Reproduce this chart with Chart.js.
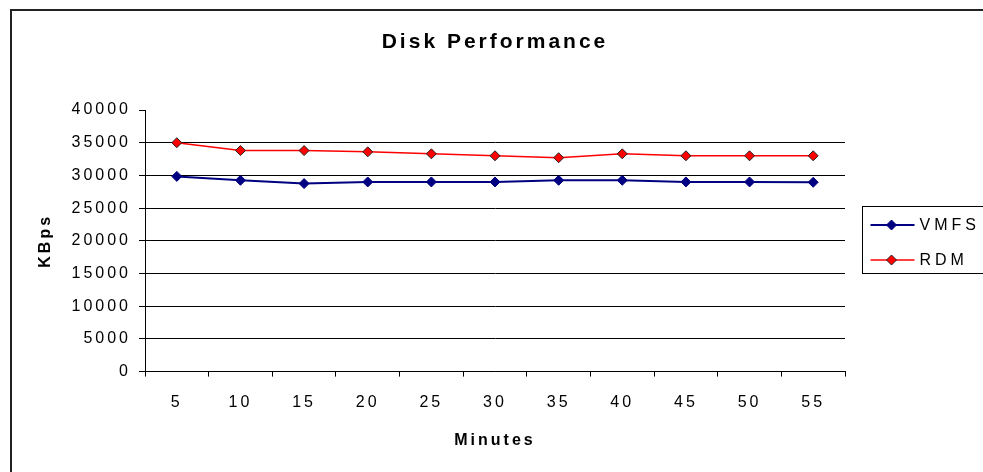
<!DOCTYPE html>
<html>
<head>
<meta charset="utf-8">
<script src="https://cdn.jsdelivr.net/npm/chart.js@4/dist/chart.umd.min.js"></script>
<style>
  body { margin: 0; background: #fff; }
  #wrap { position: relative; width: 983px; height: 472px; overflow: hidden; }
  #frame { position: absolute; left: 10px; top: 9px; width: 1100px; height: 600px;
           border-left: 2px solid #222; border-top: 2px solid #222; }
  canvas { position: absolute; left: 0; top: 0; }
</style>
</head>
<body>
<div id="wrap">
  <div id="frame"></div>
  <canvas id="disk" width="983" height="472"></canvas>
</div>
<script>
const minutes = ['5', '10', '15', '20', '25', '30', '35', '40', '45', '50', '55'];
const vmfs = [29850, 29250, 28750, 29000, 29000, 29000, 29250, 29250, 29000, 29000, 28950];
const rdm = [35000, 33800, 33800, 33600, 33300, 33000, 32700, 33300, 33000, 33000, 33000];
const yMin = 0, yMax = 40000, yStep = 5000;

const FONT = "'Liberation Sans', Arial, sans-serif";

// old excel bitmap text is wide, so space the letters out
const spacing = {
    id: 'spacing',
    beforeUpdate(chart) { chart.ctx.letterSpacing = '3px'; },
    beforeDraw(chart) { chart.ctx.letterSpacing = '3px'; }
};

// excel style legend: framed box, line + marker
const boxLegend = {
    id: 'boxLegend',
    afterDraw(chart) {
        const ctx = chart.ctx;
        const x0 = chart.chartArea.right + 17.5;
        ctx.save();
        ctx.strokeStyle = '#000';
        ctx.lineWidth = 1;
        ctx.strokeRect(x0, 206.5, 140, 67);
        chart.data.datasets.forEach((ds, i) => {
            const y = 225 + i * 35;
            ctx.strokeStyle = ds.borderColor;
            ctx.lineWidth = ds.borderWidth;
            ctx.beginPath();
            ctx.moveTo(x0 + 8, y);
            ctx.lineTo(x0 + 52, y);
            ctx.stroke();
            ctx.fillStyle = ds.pointBackgroundColor;
            ctx.strokeStyle = ds.pointBorderColor;
            ctx.lineWidth = 1;
            Chart.helpers.drawPoint(ctx, {pointStyle: 'rectRot', radius: 5, borderWidth: 1}, x0 + 29, y);
            ctx.fillStyle = '#000';
            ctx.font = '16px ' + FONT;
            ctx.letterSpacing = '4px';
            ctx.textBaseline = 'middle';
            ctx.textAlign = 'left';
            ctx.fillText(ds.label, x0 + 57, y + 1);
        });
        ctx.restore();
    }
};

const ctxDisk = document.getElementById('disk');
const diskChart = new Chart(ctxDisk, {
    type: 'line',
    data: {
        labels: minutes,
        datasets: [{
            label: 'VMFS',
            data: vmfs,
            borderColor: '#000080',
            borderWidth: 2,
            pointStyle: 'rectRot',
            pointRadius: 5,
            pointBackgroundColor: '#000080',
            pointBorderColor: '#000080',
            pointBorderWidth: 1,
            tension: 0
        }, {
            label: 'RDM',
            data: rdm,
            borderColor: '#ff0000',
            borderWidth: 1.5,
            pointStyle: 'rectRot',
            pointRadius: 5,
            pointBackgroundColor: '#ff0000',
            pointBorderColor: '#222',
            pointBorderWidth: 1,
            tension: 0
        }]
    },
    plugins: [spacing, boxLegend],
    options: {
        responsive: false,
        animation: false,
        layout: {
            padding: { left: 10, right: 138, top: 0, bottom: 0 }
        },
        plugins: {
            legend: { display: false },
            tooltip: { enabled: false },
            title: {
                display: true,
                text: 'Disk Performance',
                fullSize: false,
                color: '#000',
                font: { family: FONT, size: 21, weight: 'bold' },
                padding: { top: 30, bottom: 54.8 }
            }
        },
        scales: {
            x: {
                offset: true,
                grid: {
                    offset: true,
                    drawOnChartArea: false,
                    tickLength: 5,
                    color: '#000',
                    tickColor: '#000'
                },
                border: { color: '#000', width: 1 },
                ticks: {
                    color: '#000',
                    padding: 16,
                    maxRotation: 0,
                    font: { family: FONT, size: 16 }
                },
                title: {
                    display: true,
                    text: 'Minutes',
                    color: '#000',
                    font: { family: FONT, size: 16, weight: 'bold' },
                    padding: { top: 3, bottom: 22 }
                }
            },
            y: {
                min: yMin,
                max: yMax,
                afterFit(scale) { scale.width = 135; },
                grid: {
                    color: (c) => (c.tick && c.tick.value === yMax) ? 'rgba(0,0,0,0)' : '#000',
                    tickColor: '#000',
                    tickLength: 6
                },
                border: { color: '#000', width: 1 },
                ticks: {
                    stepSize: yStep,
                    color: '#000',
                    padding: 8,
                    font: { family: FONT, size: 16 },
                    callback: (v) => String(v)
                },
                title: {
                    display: true,
                    text: 'KBps',
                    color: '#000',
                    font: { family: FONT, size: 16, weight: 'bold' },
                    padding: { top: 26, bottom: 4 }
                }
            }
        }
    }
});
</script>
</body>
</html>
